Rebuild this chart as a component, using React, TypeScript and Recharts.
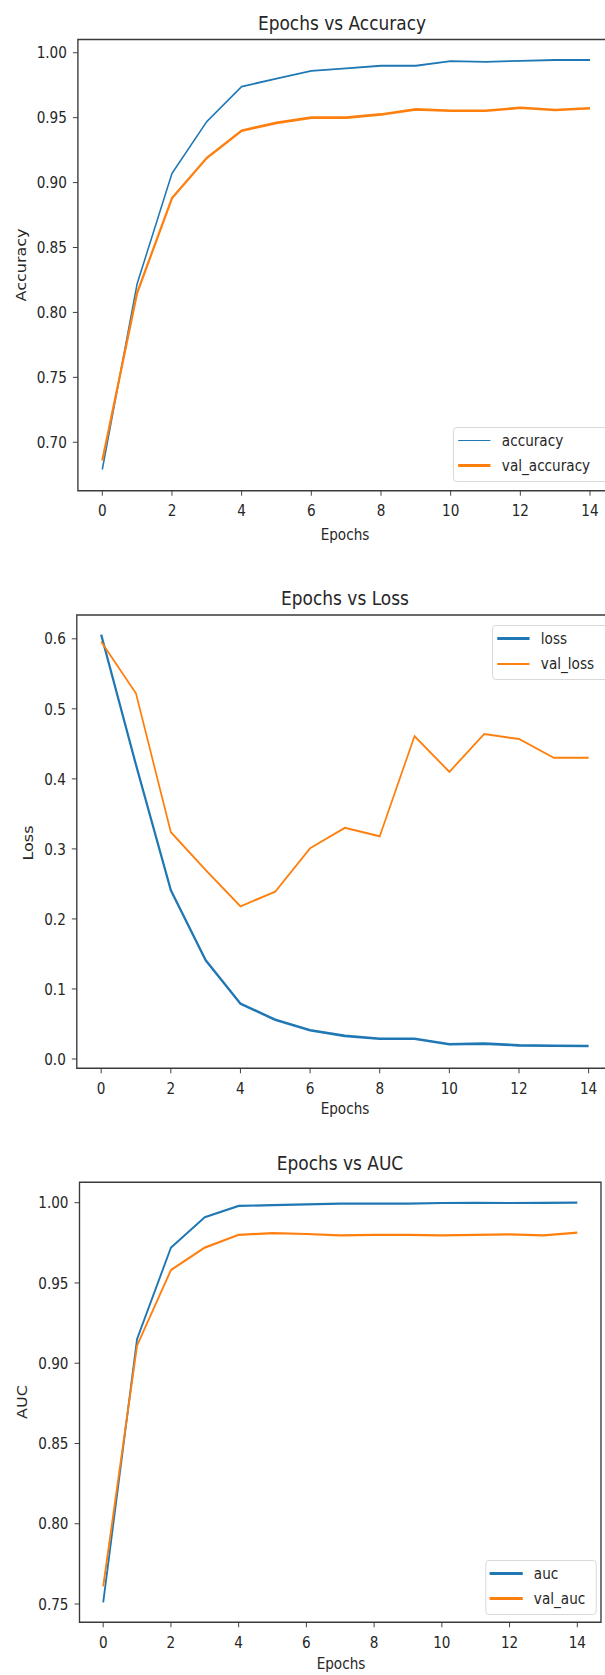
import React from "react";
import { LineChart, Line, XAxis, YAxis, ReferenceArea } from "recharts";

// training history
const epochs = [0, 1, 2, 3, 4, 5, 6, 7, 8, 9, 10, 11, 12, 13, 14];
const accuracy = [0.679, 0.822, 0.907, 0.947, 0.974, 0.98, 0.986, 0.988, 0.99, 0.99, 0.9936, 0.993, 0.9938, 0.9944, 0.9944];
const valAccuracy = [0.686, 0.815, 0.888, 0.919, 0.94, 0.946, 0.95, 0.95, 0.9525, 0.9564, 0.9553, 0.9553, 0.9576, 0.9559, 0.9572];
const loss = [0.606, 0.42, 0.241, 0.141, 0.079, 0.056, 0.041, 0.033, 0.029, 0.029, 0.021, 0.022, 0.0195, 0.019, 0.0186];
const valLoss = [0.596, 0.522, 0.324, 0.27, 0.218, 0.239, 0.301, 0.33, 0.318, 0.461, 0.41, 0.464, 0.457, 0.43, 0.43];
const auc = [0.751, 0.915, 0.972, 0.991, 0.998, 0.9985, 0.999, 0.9994, 0.9994, 0.9994, 0.9998, 0.9999, 0.9998, 0.9999, 1.0];
const valAuc = [0.761, 0.911, 0.958, 0.972, 0.98, 0.981, 0.9805, 0.9796, 0.98, 0.9799, 0.9797, 0.9799, 0.9803, 0.9797, 0.9814];

const xTicks = [0, 2, 4, 6, 8, 10, 12, 14];
const accTicks = [0.7, 0.75, 0.8, 0.85, 0.9, 0.95, 1.0];
const lossTicks = [0, 0.1, 0.2, 0.3, 0.4, 0.5, 0.6];
const aucTicks = [0.75, 0.8, 0.85, 0.9, 0.95, 1.0];

const SX = 0.85; // the source figure is squeezed horizontally
const FONT = "'DejaVu Sans', Verdana, sans-serif";
const INK = "#262626";
const BLUE = "#1f77b4";
const ORANGE = "#ff7f0e";

type Series = { key: string; name: string; color: string; width: number };

type PanelProps = {
  top: number;
  height: number;
  width: number;
  plot: { l: number; r: number; t: number; b: number };
  domain: [number, number];
  ticks: number[];
  digits: number;
  rows: Record<string, number>[];
  series: Series[];
  title: string;
  titlePos: [number, number];
  xlabelPos: [number, number];
  ylabel: string;
  ylabelPos: [number, number];
  legend: { x: number; y: number; w: number };
};

function Panel(p: PanelProps) {
  const wu = p.width / SX;
  return (
    <div style={{ position: "absolute", left: 0, top: p.top, width: wu, height: p.height }}>
      <LineChart
        width={wu}
        height={p.height}
        data={p.rows}
        margin={{ top: p.plot.t - p.top, right: (p.width - p.plot.r) / SX, left: 0, bottom: 0 }}
      >
        <XAxis
          dataKey="epoch"
          type="number"
          domain={[-0.7, 14.7]}
          ticks={xTicks}
          allowDataOverflow
          height={p.top + p.height - p.plot.b}
          axisLine={false}
          tickLine={{ stroke: "#333" }}
          tickSize={5}
          tickMargin={9}
          tick={{ fontSize: 16, fill: INK, fontFamily: FONT }}
        />
        <YAxis
          type="number"
          domain={p.domain}
          ticks={p.ticks}
          allowDataOverflow
          width={p.plot.l / SX}
          axisLine={false}
          tickLine={{ stroke: "#333" }}
          tickSize={5 / SX}
          tickMargin={6 / SX}
          tickFormatter={(v: number) => v.toFixed(p.digits)}
          tick={{ fontSize: 16, fill: INK, fontFamily: FONT }}
        />
        <ReferenceArea
          x1={-0.7}
          x2={14.7}
          y1={p.domain[0]}
          y2={p.domain[1]}
          fill="none"
          stroke="#3a3a3a"
          strokeWidth={1.6}
          ifOverflow="visible"
        />
        {p.series.map((s) => (
          <Line
            key={s.key}
            type="linear"
            dataKey={s.key}
            name={s.name}
            stroke={s.color}
            strokeWidth={s.width}
            dot={false}
            isAnimationActive={false}
          />
        ))}
      </LineChart>
      <svg
        width={wu}
        height={p.height}
        style={{ position: "absolute", left: 0, top: 0, pointerEvents: "none" }}
        fontFamily={FONT}
        fill={INK}
      >
        <text x={p.titlePos[0] / SX} y={p.titlePos[1] - p.top} textAnchor="middle" fontSize={20}>
          {p.title}
        </text>
        <text x={p.xlabelPos[0] / SX} y={p.xlabelPos[1] - p.top} textAnchor="middle" fontSize={16}>
          Epochs
        </text>
        <text
          transform={`translate(${p.ylabelPos[0] / SX},${p.ylabelPos[1] - p.top}) rotate(-90)`}
          textAnchor="middle"
          fontSize={16}
        >
          {p.ylabel}
        </text>
      </svg>
      <div
        style={{
          position: "absolute",
          left: p.legend.x / SX,
          top: p.legend.y - p.top,
          width: p.legend.w / SX,
          height: 55,
          border: "1px solid #d6d6d6",
          borderRadius: 4,
          background: "rgba(255,255,255,0.85)",
          boxSizing: "border-box",
          fontFamily: FONT,
          fontSize: 16,
          color: INK,
        }}
      >
        {p.series.map((s, i) => (
          <div key={s.key}>
            <div
              style={{
                position: "absolute",
                left: 4 / SX,
                top: 12.5 + 25 * i - s.width / 2,
                width: 33 / SX,
                height: s.width,
                background: s.color,
              }}
            />
            <div
              style={{
                position: "absolute",
                left: 48 / SX,
                top: 12.5 + 25 * i - 12,
                height: 24,
                lineHeight: "24px",
                whiteSpace: "nowrap",
              }}
            >
              {s.name}
            </div>
          </div>
        ))}
      </div>
    </div>
  );
}

export default function App() {
  const accRows = epochs.map((e, i) => ({ epoch: e, accuracy: accuracy[i], val_accuracy: valAccuracy[i] }));
  const lossRows = epochs.map((e, i) => ({ epoch: e, loss: loss[i], val_loss: valLoss[i] }));
  const aucRows = epochs.map((e, i) => ({ epoch: e, auc: auc[i], val_auc: valAuc[i] }));

  return (
    <div
      style={{
        position: "absolute",
        left: 0,
        top: 0,
        width: 605,
        height: 1675,
        overflow: "hidden",
        background: "#fff",
      }}
    >
      <div
        style={{
          position: "absolute",
          left: 0,
          top: 0,
          width: 620 / SX,
          height: 1675,
          transform: `scaleX(${SX})`,
          transformOrigin: "0 0",
        }}
      >
        <Panel
          top={0}
          height={570}
          width={620}
          plot={{ l: 77.9, r: 614.4, t: 39.5, b: 490.7 }}
          domain={[0.6627, 1.0102]}
          ticks={accTicks}
          digits={2}
          rows={accRows}
          series={[
            { key: "accuracy", name: "accuracy", color: BLUE, width: 1.8 },
            { key: "val_accuracy", name: "val_accuracy", color: ORANGE, width: 2.6 },
          ]}
          title="Epochs vs Accuracy"
          titlePos={[342, 30]}
          xlabelPos={[345, 540]}
          ylabel="Accuracy"
          ylabelPos={[26, 265]}
          legend={{ x: 453, y: 427, w: 156 }}
        />
        <Panel
          top={575}
          height={565}
          width={620}
          plot={{ l: 76.8, r: 613, t: 615, b: 1068.3 }}
          domain={[-0.0133, 0.634]}
          ticks={lossTicks}
          digits={1}
          rows={lossRows}
          series={[
            { key: "loss", name: "loss", color: BLUE, width: 2.6 },
            { key: "val_loss", name: "val_loss", color: ORANGE, width: 2 },
          ]}
          title="Epochs vs Loss"
          titlePos={[345, 605]}
          xlabelPos={[345, 1114]}
          ylabel="Loss"
          ylabelPos={[33, 843]}
          legend={{ x: 492, y: 625, w: 117 }}
        />
        <Panel
          top={1140}
          height={535}
          width={605}
          plot={{ l: 79.5, r: 601, t: 1182.3, b: 1622.3 }}
          domain={[0.7386, 1.0127]}
          ticks={aucTicks}
          digits={2}
          rows={aucRows}
          series={[
            { key: "auc", name: "auc", color: BLUE, width: 2.2 },
            { key: "val_auc", name: "val_auc", color: ORANGE, width: 2.2 },
          ]}
          title="Epochs vs AUC"
          titlePos={[340, 1170]}
          xlabelPos={[341, 1669]}
          ylabel="AUC"
          ylabelPos={[27, 1402]}
          legend={{ x: 485, y: 1560, w: 112 }}
        />
      </div>
    </div>
  );
}
